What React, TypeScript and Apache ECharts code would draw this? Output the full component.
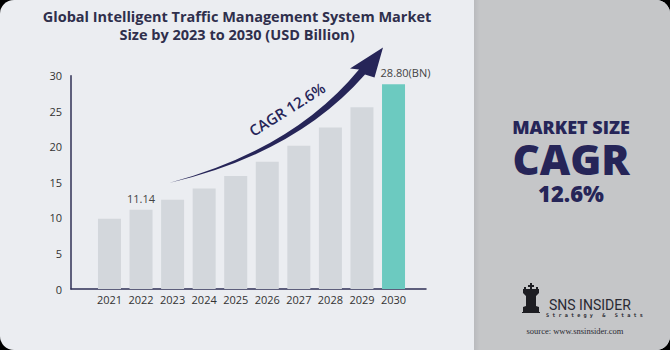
import React, { useEffect, useRef } from "react";
import * as echarts from "echarts";

const years = ["2021", "2022", "2023", "2024", "2025", "2026", "2027", "2028", "2029", "2030"];
const marketSize = [9.89, 11.14, 12.55, 14.13, 15.9, 17.9, 20.15, 22.7, 25.55, 28.8];
const yTicks = { min: 0, max: 30, interval: 5 };
const barLabels = ["", "11.14", "", "", "", "", "", "", "", "28.80(BN)"];

const NAVY = "#262558";
const FONT = "'Open Sans', 'Noto Sans', sans-serif";

const arrowD =
  "M169,183 Q293.2,149.4 359,69.4 L350,68.5 L383,47.5 L374.5,77.5 L365,74.6 Q295.7,153.8 169,183 Z";
const rookD =
  "M530,283 L532,283 L532,285 L534,285 L534,287 L532,287 L532,289 L536,289 L536,287 L538,287 L538,289 L539,289 L539,293 L536,296 L536,306 L539,307 L539,312 L540,312 L540,313 L522,313 L522,312 L523,312 L523,307 L526,306 L526,296 L523,293 L523,289 L524,289 L524,287 L526,287 L526,289 L530,289 L530,287 L528,287 L528,285 L530,285 Z";

export default function App() {
  const ref = useRef<HTMLDivElement>(null);
  useEffect(() => {
    document.body.style.margin = "0";
    echarts.graphic.registerShape("arrowShape", echarts.graphic.extendPath(arrowD, {}));
    echarts.graphic.registerShape("rookShape", echarts.graphic.extendPath(rookD, {}));
    const chart = echarts.init(ref.current!, null, { renderer: "svg" });
    const gridTop = 75.7;
    const gridH = 213.3;
    chart.setOption({
      animation: false,
      backgroundColor: "#000",
      graphic: [
        { type: "rect", z: -10, shape: { x: 0, y: 0, width: 670, height: 350, r: 14 }, style: { fill: "#ebedf1" } },
        { type: "rect", z: -9, shape: { x: 474, y: 0, width: 196, height: 350, r: [0, 14, 14, 0] }, style: { fill: "#c5c6c8" } },
        {
          type: "rect", z: -8, shape: { x: 474, y: 0, width: 6, height: 350 },
          style: { fill: new echarts.graphic.LinearGradient(0, 0, 1, 0, [{ offset: 0, color: "#b9babd" }, { offset: 1, color: "#c5c6c8" }]) },
        },
        { type: "text", x: 237, y: 16, style: { text: "Global Intelligent Traffic Management System Market", fill: "#2f2f4c", fontFamily: FONT, fontWeight: "bold", fontSize: 14.5, align: "center", verticalAlign: "middle" } },
        { type: "text", x: 237, y: 34, style: { text: "Size by 2023 to 2030 (USD Billion)", fill: "#2f2f4c", fontFamily: FONT, fontWeight: "bold", fontSize: 14.5, align: "center", verticalAlign: "middle" } },
        { type: "arrowShape", x: 0, y: 0, z: 10, style: { fill: NAVY } },
        { type: "text", x: 287, y: 109, rotation: 0.56, z: 10, style: { text: "CAGR 12.6%", fill: NAVY, fontFamily: FONT, fontWeight: 600, fontSize: 15, align: "center", verticalAlign: "middle" } },
        {
          type: "text", x: 571, y: 161.5,
          style: {
            text: "{a|MARKET SIZE}\n{b|CAGR}\n{c|12.6%}",
            align: "center", verticalAlign: "middle",
            fill: NAVY, fontFamily: FONT, fontWeight: 800,
            rich: {
              a: { fill: NAVY, fontFamily: FONT, fontWeight: 800, fontSize: 18, lineHeight: 26, align: "center" },
              b: { fill: NAVY, fontFamily: FONT, fontWeight: 800, fontSize: 42, lineHeight: 36, align: "center" },
              c: { fill: NAVY, fontFamily: FONT, fontWeight: 800, fontSize: 22, lineHeight: 33, align: "center" },
            },
          },
        },
        { type: "rookShape", x: 0, y: 0, style: { fill: "#1d1d22" } },
        { type: "text", x: 549, y: 305, style: { text: "SNS INSIDER", fill: "#2a2a33", fontFamily: "'Liberation Sans Narrow', 'Roboto', sans-serif", fontSize: 14, align: "left", verticalAlign: "middle" } },
        { type: "text", x: 546, y: 314.5, style: { text: "S t r a t e g y   &   S t a t s", fill: "#2a2a33", fontFamily: "'DejaVu Sans Mono', monospace", fontWeight: "bold", fontSize: 5.2, align: "left", verticalAlign: "middle" } },
        { type: "text", x: 575, y: 331, style: { text: "source: www.snsinsider.com", fill: "#2a2a33", fontFamily: "'Liberation Serif', 'DejaVu Serif', serif", fontSize: 8.5, align: "center", verticalAlign: "middle" } },
      ],
      grid: [
        { left: 93.7, width: 315.6, top: gridTop, height: gridH },
        { left: 71, width: 355, top: gridTop, height: gridH },
      ],
      xAxis: [
        {
          type: "category", gridIndex: 0, data: years,
          axisLine: { show: false }, axisTick: { show: false },
          axisLabel: { color: "#333", fontSize: 11, fontFamily: FONT, margin: 5, interval: 0 },
        },
        {
          type: "value", gridIndex: 1, min: 0, max: 1,
          axisLine: { show: true, lineStyle: { color: "#2f2f55", width: 1.5 } },
          axisTick: { show: false }, axisLabel: { show: false }, splitLine: { show: false },
        },
      ],
      yAxis: [
        {
          type: "value", gridIndex: 0, min: yTicks.min, max: yTicks.max, interval: yTicks.interval, offset: 22.7,
          axisLine: { show: true, lineStyle: { color: "#2f2f55", width: 1.5 } },
          axisTick: { show: false }, splitLine: { show: false },
          axisLabel: { color: "#333", fontSize: 11, fontFamily: FONT, margin: 9 },
        },
        { type: "value", gridIndex: 1, min: 0, max: 1, show: false },
      ],
      series: [
        {
          type: "bar", xAxisIndex: 0, yAxisIndex: 0, barWidth: 23,
          data: marketSize.map((v, i) => ({
            value: v,
            itemStyle: { color: i === marketSize.length - 1 ? "#6ccac0" : "#d3d7dc" },
            label: {
              show: barLabels[i] !== "",
              formatter: barLabels[i],
              position: "top",
              distance: 6,
              offset: i === marketSize.length - 1 ? [12, 0] : [0, 0],
              color: "#444",
              fontSize: 11,
              fontFamily: FONT,
            },
          })),
        },
      ],
    });
    return () => chart.dispose();
  }, []);
  return <div ref={ref} style={{ position: "fixed", left: 0, top: 0, width: 670, height: 350 }} />;
}
